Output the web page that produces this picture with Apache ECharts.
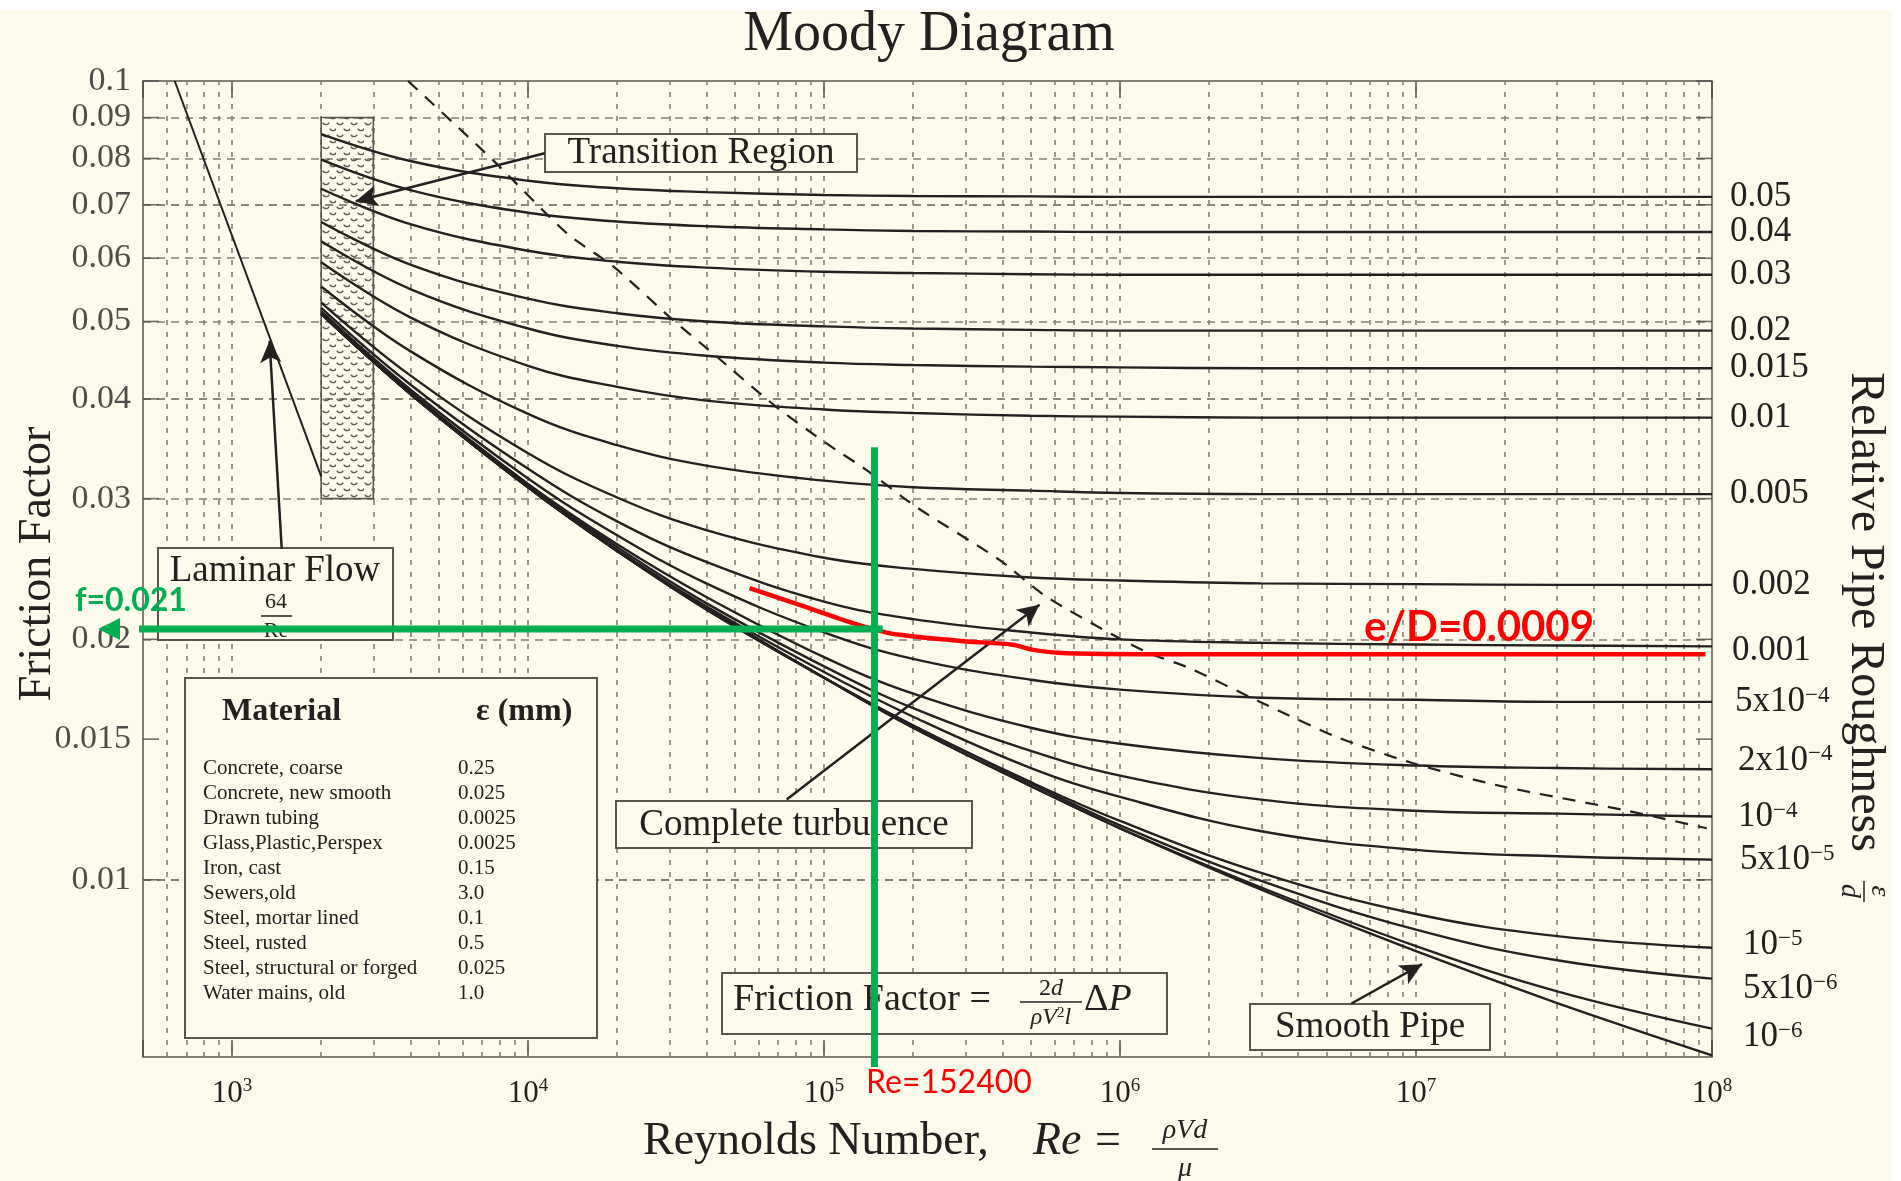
<!DOCTYPE html>
<html>
<head>
<meta charset="utf-8">
<title>Moody Diagram</title>
<script src="https://cdn.jsdelivr.net/npm/echarts@6.0.0/dist/echarts.min.js"></script>
<style>
html,body{margin:0;padding:0;background:#ffffff;}
#chart{width:1901px;height:1181px;}
</style>
</head>
<body>
<div id="chart"></div>
<script>
// ---------------- values ----------------
const reynolds = [2000, 4000, 10000, 20000, 40000, 100000, 200000, 500000, 1000000, 3000000, 10000000, 30000000, 100000000];

const f_0_05   = [0.0858, 0.0794, 0.0750, 0.0734, 0.0726, 0.0720, 0.0718, 0.0717, 0.0716, 0.0716, 0.0716, 0.0716, 0.0716];
const f_0_04   = [0.0797, 0.0730, 0.0684, 0.0667, 0.0658, 0.0652, 0.0649, 0.0648, 0.0647, 0.0647, 0.0647, 0.0647, 0.0647];
const f_0_03   = [0.0733, 0.0662, 0.0613, 0.0594, 0.0584, 0.0577, 0.0575, 0.0573, 0.0572, 0.0572, 0.0572, 0.0572, 0.0572];
const f_0_02   = [0.0666, 0.0589, 0.0534, 0.0512, 0.0500, 0.0493, 0.0490, 0.0488, 0.0487, 0.0487, 0.0487, 0.0487, 0.0487];
const f_0_015  = [0.0630, 0.0549, 0.0490, 0.0466, 0.0453, 0.0444, 0.0441, 0.0439, 0.0438, 0.0437, 0.0437, 0.0437, 0.0437];
const f_0_01   = [0.0593, 0.0506, 0.0440, 0.0414, 0.0398, 0.0388, 0.0384, 0.0381, 0.0380, 0.0379, 0.0379, 0.0379, 0.0379];
const f_0_005  = [0.0553, 0.0459, 0.0383, 0.0350, 0.0330, 0.0316, 0.0310, 0.0307, 0.0305, 0.0304, 0.0304, 0.0304, 0.0304];
const f_0_002  = [0.0528, 0.0428, 0.0342, 0.0301, 0.0274, 0.0253, 0.0245, 0.0239, 0.0237, 0.0235, 0.02345, 0.0234, 0.0234];
const f_0_001  = [0.0520, 0.0417, 0.0327, 0.0281, 0.0250, 0.0223, 0.0212, 0.0204, 0.0200, 0.0198, 0.0197, 0.01965, 0.0196];
const f_5e_4   = [0.0515, 0.0411, 0.0318, 0.0270, 0.0235, 0.0204, 0.0189, 0.0178, 0.0173, 0.0169, 0.0168, 0.0167, 0.0167];
const f_2e_4   = [0.0513, 0.0408, 0.0313, 0.0263, 0.0226, 0.0190, 0.0171, 0.0155, 0.0148, 0.0142, 0.0139, 0.0138, 0.01375];
const f_1e_4   = [0.0512, 0.0407, 0.0312, 0.0261, 0.0222, 0.0185, 0.0164, 0.0145, 0.0135, 0.0126, 0.0122, 0.0121, 0.0120];
const f_5e_5   = [0.0511, 0.0406, 0.0311, 0.0259, 0.0220, 0.0182, 0.0160, 0.0138, 0.0127, 0.0115, 0.0109, 0.0107, 0.0106];
const f_1e_5   = [0.0511, 0.0406, 0.0310, 0.0258, 0.0219, 0.0179, 0.0156, 0.01325, 0.01185, 0.0102, 0.00906, 0.0085, 0.00822];
const f_5e_6   = [0.0511, 0.0406, 0.0310, 0.0258, 0.0219, 0.0179, 0.0156, 0.0132, 0.0117, 0.00997, 0.00866, 0.00793, 0.00752];
const f_1e_6   = [0.0511, 0.0406, 0.0310, 0.0258, 0.0218, 0.0179, 0.0155, 0.0131, 0.0116, 0.00978, 0.00826, 0.00725, 0.00651];
const f_smooth = [0.0511, 0.0406, 0.0310, 0.0258, 0.0218, 0.0179, 0.0155, 0.0131, 0.0116, 0.00972, 0.00814, 0.00701, 0.00603];

const roughLabels = ['0.05', '0.04', '0.03', '0.02', '0.015', '0.01', '0.005', '0.002', '0.001',
  '5x10{s|\u22124}', '2x10{s|\u22124}', '10{s|\u22124}', '5x10{s|\u22125}', '10{s|\u22125}', '5x10{s|\u22126}', '10{s|\u22126}', ''];

const laminarRe = [640, 2000];
const laminarF  = [0.1, 0.032];

const transitionRe = [2000, 3000];
const transitionF  = [0.09, 0.03];

const turbRe = [3930, 7610, 13500, 19400, 30900, 42100, 68900, 101700, 138800, 204600, 391200, 562300, 969000, 1255000, 1713000, 2952000, 5360000, 9720000, 19560000, 49700000, 96000000];
const turbF  = [0.1, 0.0796, 0.0645, 0.0586, 0.0502, 0.0456, 0.0391, 0.0352, 0.0326, 0.0293, 0.02515, 0.02263, 0.02016, 0.01922, 0.01841, 0.01672, 0.01511, 0.0140, 0.01309, 0.01224, 0.0116];

const redRe = [56000, 82600, 115700, 146100, 179800, 301900, 434100, 508300, 658300, 1850000, 95000000];
const redF  = [0.02318, 0.02209, 0.02116, 0.0206, 0.02026, 0.01988, 0.01969, 0.0194, 0.01922, 0.01916, 0.01916];

const greenRe = 148000;
const greenVertF = [0.0348, 0.00583];
const greenHorizRe = [157800, 384];
const greenF = 0.0206;

// annotation arrows (from, to) in (Re, f)
const arrowFromRe = [11380, 1471, 74760, 6050000];
const arrowFromF  = [0.0812, 0.02597, 0.0126, 0.0070];
const arrowToRe   = [2616, 1338, 534600, 10480000];
const arrowToF    = [0.0707, 0.0473, 0.02209, 0.00784];

const xGridValues = [600, 700, 800, 900, 1000, 2000, 3000, 4000, 5000, 6000, 7000, 8000, 9000,
  10000, 20000, 30000, 40000, 50000, 60000, 70000, 80000, 90000,
  100000, 200000, 300000, 400000, 500000, 600000, 700000, 800000, 900000,
  1000000, 2000000, 3000000, 4000000, 5000000, 6000000, 7000000, 8000000, 9000000,
  10000000, 20000000, 30000000, 40000000, 50000000, 60000000, 70000000, 80000000, 90000000];
const yGridValues = [0.007, 0.008, 0.009, 0.01, 0.015, 0.02, 0.03, 0.04, 0.045, 0.05, 0.06, 0.07, 0.075, 0.08, 0.09];
const yTickLabels = [0.1, 0.09, 0.08, 0.07, 0.06, 0.05, 0.04, 0.03, 0.02, 0.015, 0.01];

const materials = ['Concrete, coarse', 'Concrete, new smooth', 'Drawn tubing', 'Glass,Plastic,Perspex', 'Iron, cast',
  'Sewers,old', 'Steel, mortar lined', 'Steel, rusted', 'Steel, structural or forged', 'Water mains, old'];
const materialEps = ['0.25', '0.025', '0.0025', '0.0025', '0.15', '3.0', '0.1', '0.5', '0.025', '1.0'];

// ---------------- styling ----------------
const CREAM = '#fcfaeb', INK = '#232120', FRAME = '#5a564e', GRIDC = '#877f72';
const SERIF = '"Liberation Serif", "Times New Roman", serif';
const SANS = 'Lato, "Open Sans", sans-serif';
const GREEN = '#00b050', RED = '#ff0000';

function makeScallop() {
  const c = document.createElement('canvas');
  c.width = 14; c.height = 12;
  const g = c.getContext('2d');
  g.strokeStyle = 'rgba(60,56,50,0.8)';
  g.lineWidth = 1.5;
  g.beginPath(); g.arc(4, 1, 3.6, 0.15 * Math.PI, 0.85 * Math.PI); g.stroke();
  g.beginPath(); g.arc(11, 7, 3.6, 0.15 * Math.PI, 0.85 * Math.PI); g.stroke();
  return c;
}
const scallop = makeScallop();

function T(text, x, y, size, o) {
  o = o || {};
  const style = {
    text: text,
    font: (o.italic ? 'italic ' : '') + (o.bold ? 'bold ' : '') + size + 'px ' + (o.family || SERIF),
    fill: o.color || INK,
    align: o.align || 'center', textAlign: o.align || 'center',
    verticalAlign: 'middle', textVerticalAlign: 'middle'
  };
  if (o.rich) style.rich = o.rich;
  return { type: 'text', x: x, y: y, rotation: o.rotation || 0, z: o.z || 52, silent: true, style: style };
}
function B(x, y, w, h) {
  return { type: 'rect', shape: { x: x, y: y, width: w, height: h }, z: 50, silent: true,
    style: { fill: CREAM, stroke: FRAME, lineWidth: 2 } };
}
function L(x1, y1, x2, y2, w) {
  return { type: 'line', shape: { x1: x1, y1: y1, x2: x2, y2: y2 }, z: 52, silent: true,
    style: { stroke: INK, lineWidth: w || 1.6 } };
}

const fracRich = {
  r: { fontFamily: SERIF, fontSize: 24, color: INK },
  i: { fontFamily: SERIF, fontSize: 24, fontStyle: 'italic', color: INK },
  s: { fontFamily: SERIF, fontSize: 15, color: INK, verticalAlign: 'top' }
};
const bigRich = {
  r: { fontFamily: SERIF, fontSize: 38, color: INK },
  i: { fontFamily: SERIF, fontSize: 38, fontStyle: 'italic', color: INK }
};

const graphics = [
  { type: 'rect', shape: { x: 0, y: 0, width: 1901, height: 10 }, z: 0, silent: true, style: { fill: '#ffffff' } },
  { type: 'rect', shape: { x: 1892, y: 0, width: 9, height: 1181 }, z: 0, silent: true, style: { fill: '#ffffff' } },
  T('Moody Diagram', 929, 35, 56),
  T('Friction Factor', 38, 564, 46, { rotation: Math.PI / 2 }),
  T('Relative Pipe Roughness', 1865, 612, 48, { rotation: -Math.PI / 2 }),
  T('\u03b5', 1879, 891, 28, { italic: true, rotation: -Math.PI / 2 }),
  L(1864, 881, 1864, 902, 1.5),
  T('d', 1849, 891, 28, { italic: true, rotation: -Math.PI / 2 }),
  T('Reynolds Number,', 643, 1142, 46, { align: 'left' }),
  T('Re', 1033, 1142, 46, { align: 'left', italic: true }),
  T('=', 1095, 1142, 46, { align: 'left' }),
  T('\u03c1Vd', 1185, 1131, 28, { italic: true }),
  L(1152, 1149, 1218, 1149, 1.6),
  T('\u03bc', 1185, 1169, 28, { italic: true }),

  B(545, 134, 312, 38), T('Transition Region', 701, 153, 37),
  B(158, 548, 235, 92), T('Laminar Flow', 275, 571, 37), T('64', 276, 602, 22), L(261, 616, 292, 616, 1.5), T('Re', 276, 631, 22),
  B(616, 801, 356, 47), T('Complete turbulence', 794, 825, 37),
  B(1250, 1004, 240, 46), T('Smooth Pipe', 1370, 1027, 37),
  B(722, 973, 445, 61),
  T('Friction Factor =', 733, 1000, 38, { align: 'left' }),
  T('{r|2}{i|d}', 1051, 989, 24, { rich: fracRich }),
  L(1020, 1002, 1082, 1002, 1.5),
  T('{i|\u03c1V}{s|2}{i|l}', 1051, 1018, 24, { rich: fracRich }),
  T('{r|\u0394}{i|P}', 1084, 1000, 38, { align: 'left', rich: bigRich }),

  B(185, 678, 412, 360),
  T('Material', 222, 712, 32, { bold: true, align: 'left' }),
  T('\u03b5 (mm)', 476, 712, 32, { bold: true, align: 'left' }),

  T('f=0.021', 75, 601, 32, { family: SANS, bold: true, color: GREEN, align: 'left', z: 110 }),
  T('e/D=0.0009', 1364, 627, 42, { family: SANS, bold: true, color: RED, align: 'left', z: 110 }),
  T('Re=152400', 866, 1083, 32, { family: SANS, color: RED, align: 'left', z: 110 })
];
materials.forEach(function (m, i) { graphics.push(T(m, 203, 768 + 25 * i, 21, { align: 'left' })); });
materialEps.forEach(function (v, i) { graphics.push(T(v, 458, 768 + 25 * i, 21, { align: 'left' })); });

// ---------------- series ----------------
const series = [];

// grid lines
series.push({
  type: 'line', data: [], silent: true, z: 1,
  markLine: {
    silent: true, z: 1, symbol: ['none', 'none'], label: { show: false }, animation: false,
    lineStyle: { type: [5, 7], color: GRIDC, width: 1.6 },
    data: xGridValues.map(function (v) { return { xAxis: v }; })
      .concat(yGridValues.map(function (v) { return { yAxis: v, lineStyle: { type: [8, 6], color: GRIDC, width: 1.6 } }; }))
  }
});

// transition region
series.push({
  type: 'line', data: [], silent: true, z: 2,
  markArea: {
    silent: true, z: 2, label: { show: false },
    itemStyle: { color: { image: scallop, repeat: 'repeat' }, borderColor: FRAME, borderWidth: 1.6 },
    data: [[{ coord: [transitionRe[0], transitionF[0]] }, { coord: [transitionRe[1], transitionF[1]] }]]
  }
});

// laminar line
series.push({
  type: 'line', data: laminarRe.map(function (r, i) { return [r, laminarF[i]]; }),
  showSymbol: false, symbol: 'none', silent: true, z: 3, lineStyle: { color: INK, width: 2 }
});

// friction-factor curves, one per relative roughness
const curveF = [f_0_05, f_0_04, f_0_03, f_0_02, f_0_015, f_0_01, f_0_005, f_0_002, f_0_001,
  f_5e_4, f_2e_4, f_1e_4, f_5e_5, f_1e_5, f_5e_6, f_1e_6, f_smooth];
const labelDy = [0, 0, 0, 0, 0, 0, 0, 0, 4, 0, -9, 0, 0, -3, 10, 8, 0];
const labelDist = [18, 18, 18, 18, 18, 18, 18, 20, 20, 23, 26, 26, 28, 31, 31, 31, 0];
curveF.forEach(function (fv, idx) {
  const lbl = roughLabels[idx];
  series.push({
    type: 'line', name: 'c' + idx,
    data: reynolds.map(function (r, k) { return [r, fv[k]]; }),
    smooth: 0.4, showSymbol: false, symbol: 'none', silent: true, z: 3,
    lineStyle: { color: INK, width: 2.4 },
    endLabel: lbl ? {
      show: true, formatter: function () { return lbl; }, distance: labelDist[idx], offset: [0, labelDy[idx]],
      color: INK, fontFamily: SERIF, fontSize: 35,
      rich: { s: { fontFamily: SERIF, fontSize: 23, color: INK, verticalAlign: 'top' } }
    } : { show: false }
  });
});

// complete turbulence boundary
series.push({
  type: 'line', data: turbRe.map(function (r, i) { return [r, turbF[i]]; }),
  smooth: 0.25, showSymbol: false, symbol: 'none', silent: true, z: 4,
  lineStyle: { color: INK, width: 2.2, type: [13, 10] }
});

// annotation arrows
series.push({
  type: 'line', data: [], silent: true, z: 60,
  markLine: {
    silent: true, z: 60, symbol: ['none', 'arrow'], symbolSize: [16, 22], label: { show: false }, animation: false,
    lineStyle: { type: 'solid', color: INK, width: 2.5 },
    data: arrowFromRe.map(function (r, i) {
      return [{ coord: [r, arrowFromF[i]] }, { coord: [arrowToRe[i], arrowToF[i]] }];
    })
  }
});

// y tick marks + labels (left), ticks (right)
series.push({
  type: 'scatter', data: yTickLabels.map(function (v) { return [500, v]; }),
  symbol: 'rect', symbolSize: [16, 1.6], symbolOffset: [8, 0], clip: false, silent: true, z: 5,
  itemStyle: { color: '#4f4b45' },
  label: { show: true, position: 'left', distance: 12, formatter: function (p) { return String(p.value[1]); },
    fontFamily: SERIF, fontSize: 34, color: INK }
});
series.push({
  type: 'scatter', data: yTickLabels.map(function (v) { return [100000000, v]; }),
  symbol: 'rect', symbolSize: [16, 1.6], symbolOffset: [-8, 0], clip: false, silent: true, z: 5,
  itemStyle: { color: '#4f4b45' }
});

// red e/D = 0.0009 curve
series.push({
  type: 'line', data: redRe.map(function (r, i) { return [r, redF[i]]; }),
  smooth: 0.3, showSymbol: false, symbol: 'none', silent: true, clip: false, z: 100,
  lineStyle: { color: RED, width: 4.5 }
});
// green vertical
series.push({
  type: 'line', data: greenVertF.map(function (f) { return [greenRe, f]; }),
  showSymbol: false, symbol: 'none', silent: true, clip: false, z: 101,
  lineStyle: { color: GREEN, width: 7 }
});
// green horizontal arrow
series.push({
  type: 'line', silent: true, clip: false, z: 101, symbol: 'none', showSymbol: true,
  data: [
    { value: [greenHorizRe[0], greenF], symbol: 'none' },
    { value: [greenHorizRe[1], greenF], symbol: 'triangle', symbolSize: [22, 22], symbolRotate: 90, itemStyle: { color: GREEN } }
  ],
  itemStyle: { color: GREEN },
  lineStyle: { color: GREEN, width: 7 }
});

function xLabel(v) {
  const e = Math.log10(v);
  const r = Math.round(e);
  if (Math.abs(e - r) > 1e-6) return '';
  return '{b|10}{s|' + r + '}';
}
const tickStyle = { show: true, inside: true, length: 17, lineStyle: { color: '#4f4b45', width: 1.6 } };

const option = {
  backgroundColor: CREAM,
  animation: false,
  grid: { left: 143, top: 81, width: 1569, height: 976, show: true, borderColor: FRAME, borderWidth: 1.5,
    backgroundColor: 'rgba(0,0,0,0)', containLabel: false, outerBoundsMode: 'none' },
  xAxis: [
    { type: 'log', logBase: 10, min: 500, max: 100000000, position: 'bottom',
      axisLine: { show: false }, axisTick: tickStyle, splitLine: { show: false }, minorTick: { show: false },
      axisLabel: { show: true, margin: 20, showMaxLabel: true, formatter: xLabel,
        rich: { b: { fontFamily: SERIF, fontSize: 31, color: INK, lineHeight: 34 },
                s: { fontFamily: SERIF, fontSize: 19, color: INK, verticalAlign: 'top' } } } },
    { type: 'log', logBase: 10, min: 500, max: 100000000, position: 'top',
      axisLine: { show: false }, axisTick: tickStyle, splitLine: { show: false }, axisLabel: { show: false } }
  ],
  yAxis: { type: 'log', logBase: 10, min: 0.006, max: 0.1,
    axisLine: { show: false }, axisTick: { show: false }, axisLabel: { show: false }, splitLine: { show: false } },
  graphic: { elements: graphics },
  series: series
};

const chart = echarts.init(document.getElementById('chart'), null, { renderer: 'canvas', width: 1901, height: 1181 });
chart.setOption(option);
</script>
</body>
</html>
